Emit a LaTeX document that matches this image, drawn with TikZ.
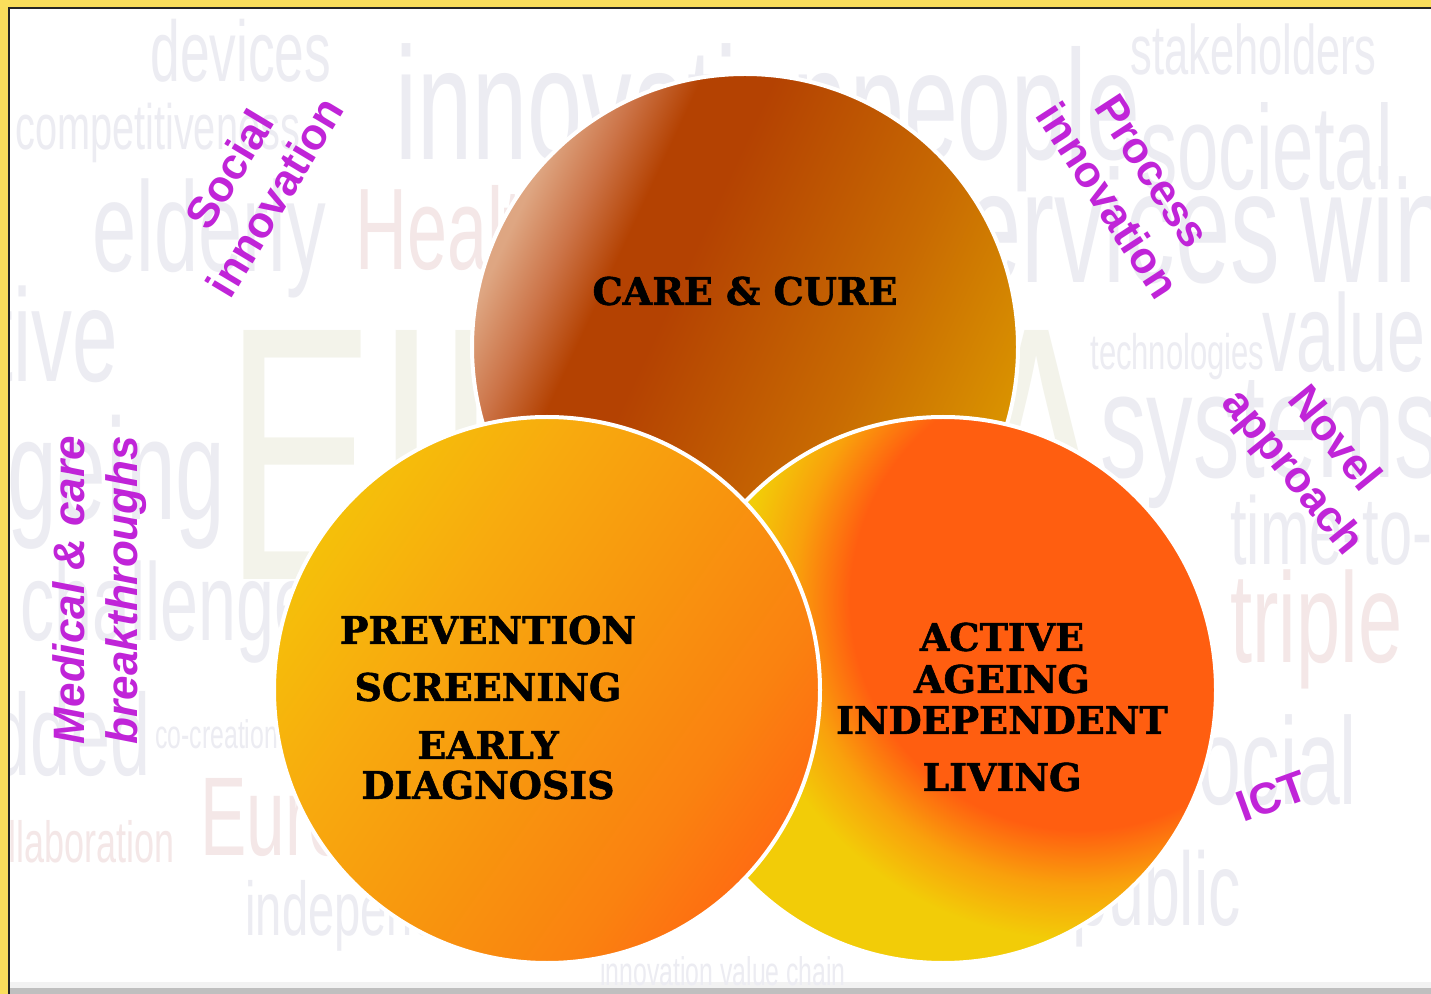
\documentclass[tikz,border=0pt]{standalone}
\usepackage{fontspec}
\setmainfont{DejaVu Serif}
\newfontfamily\bubblefont[BoldFeatures={FakeBold=1.5}]{DejaVu Serif}
\newfontfamily\labelfont{Liberation Sans}
\newfontfamily\cloudfont[FakeStretch=0.62]{Liberation Sans}

\definecolor{frameyellow}{RGB}{250,222,92}
\definecolor{labelpurple}{RGB}{192,36,216}
\definecolor{cloudgray}{RGB}{236,236,242}
\definecolor{cloudred}{RGB}{244,231,231}
\definecolor{cloudolive}{RGB}{243,243,234}

\definecolor{cctan}{RGB}{222,166,130}
\definecolor{ccsalmon}{RGB}{204,116,72}
\definecolor{ccrust}{RGB}{180,66,2}
\definecolor{ccmid}{RGB}{200,106,2}
\definecolor{ccgold}{RGB}{218,148,0}
\pgfdeclarehorizontalshading{carecure}{100bp}{color(0bp)=(cctan); color(26bp)=(cctan); color(31bp)=(ccsalmon); color(36bp)=(ccrust); color(42bp)=(ccrust); color(60bp)=(ccmid); color(75bp)=(ccgold); color(100bp)=(ccgold)}

\definecolor{pvyellow}{RGB}{245,192,10}
\definecolor{pvamber}{RGB}{248,170,14}
\definecolor{pvorange}{RGB}{248,150,14}
\definecolor{pvdark}{RGB}{250,130,16}
\definecolor{pvred}{RGB}{255,106,18}
\pgfdeclarehorizontalshading{prevention}{100bp}{color(0bp)=(pvyellow); color(25bp)=(pvyellow); color(38bp)=(pvamber); color(52bp)=(pvorange); color(66bp)=(pvdark); color(76bp)=(pvred); color(100bp)=(pvred)}

\definecolor{acyellow}{RGB}{242,204,8}
\definecolor{acorange}{RGB}{249,160,12}
\definecolor{acred}{RGB}{255,94,16}
\pgfdeclareradialshading{activeageing}{\pgfpoint{0bp}{0bp}}{color(0bp)=(acred); color(11.5bp)=(acred); color(14.25bp)=(acorange); color(17bp)=(acyellow); color(100bp)=(acyellow)}

\begin{document}
\begin{tikzpicture}[x=0.5pt, y=-0.5pt,
    bubble/.style={circle, minimum size=273pt, inner sep=0pt, draw=white, line width=2pt},
    bubbletext/.style={font=\bubblefont\bfseries\fontsize{19}{22}\selectfont, inner sep=0pt},
    sidelabel/.style={font=\labelfont\bfseries\fontsize{22}{26.5}\selectfont, text=labelpurple, align=center, inner sep=0pt},
    cloud/.style={anchor=base west, inner sep=0pt}]

    \useasboundingbox (0,0) rectangle (1431,994);

    % marco
    \fill[frameyellow] (0,0) rectangle (1431,994);
    \fill[white] (9,9) rectangle (1431,994);
    \fill[black!5] (9,982) rectangle (1431,988);
    \fill[black!25] (9,988) rectangle (1431,994);
    \draw[black!85, line width=1pt] (8.5,994) -- (8.5,8.5) -- (1431,8.5);

    % palabras de fondo
    \begin{scope}
        \clip (10,10) rectangle (1431,987);
        \node[cloud, text=cloudolive, font=\cloudfont\fontsize{181}{181}\selectfont] (eip) at (225,580) {EIP AHA};
        \foreach \x/\y/\s/\w [count=\i] in {
            150/82/43/devices,
            15/150/32/competitiveness,
            395/160/80/innovation,
            850/160/78/people,
            1130/75/35/stakeholders,
            1140/190/60/societal.,
            92/272/64/elderly,
            916/283/80/services,
            1300/283/80/win,
            -96/382/66/active,
            1262/372/55/value,
            1090/370/25/technologies,
            1100/478/75/systems,
            1230/565/48/time-to-market,
            1160/805/62/social,
            1072/925/52/public,
            -43/520/72/ageing,
            20/640/55/challenges,
            -50/775/58/added,
            155/748/20/co-creation,
            245/935/38/independent,
            600/985/20/innovation value chain}
            \node[cloud, text=cloudgray, font=\cloudfont\fontsize{\s}{\s}\selectfont] (gw\i) at (\x,\y) {\w};
        \foreach \x/\y/\s/\w [count=\i] in {
            355/270/58/Health,
            1230/662/64/triple,
            200/855/56/Europe,
            -30/862/29/collaboration}
            \node[cloud, text=cloudred, font=\cloudfont\fontsize{\s}{\s}\selectfont] (rw\i) at (\x,\y) {\w};
    \end{scope}

    % circulos
    \node[bubble, shading=carecure, shading angle=-25] (carecure) at (745,347) {};

    \coordinate (activecentre) at (943,690);
    \begin{scope}
        \clip (activecentre) circle (136.5pt);
        \shade[shading=activeageing] (1080,600) circle (250pt);
    \end{scope}
    \node[bubble] (active) at (activecentre) {};

    \node[bubble, shading=prevention, shading angle=-35] (prevention) at (547,690) {};

    \node[bubbletext] (care) at (745,291) {CARE \& CURE};

    \node[bubbletext] (prev) at (488,630) {PREVENTION};
    \node[bubbletext] (screen) at (488,687) {SCREENING};
    \node[bubbletext] (early) at (488,745) {EARLY};
    \node[bubbletext] (diag) at (488,785) {DIAGNOSIS};

    \node[bubbletext] (act) at (1002,637) {ACTIVE};
    \node[bubbletext] (ageing) at (1002,679) {AGEING};
    \node[bubbletext] (indep) at (1002,720) {INDEPENDENT};
    \node[bubbletext] (living) at (1002,777) {LIVING};

    % etiquetas
    \node[sidelabel, rotate=59] (social) at (252,183) {Social\\innovation};
    \node[sidelabel, rotate=-57] (process) at (1130,186) {Process\\innovation};
    \node[sidelabel, rotate=-51] (novel) at (1312,457) {Novel\\approach};
    \node[sidelabel, rotate=90, font=\labelfont\bfseries\itshape\fontsize{22}{26.5}\selectfont] (medical) at (100,590) {Medical \& care\\breakthroughs};
    \node[sidelabel, rotate=20] (ict) at (1272,796) {ICT};

\end{tikzpicture}
\end{document}
